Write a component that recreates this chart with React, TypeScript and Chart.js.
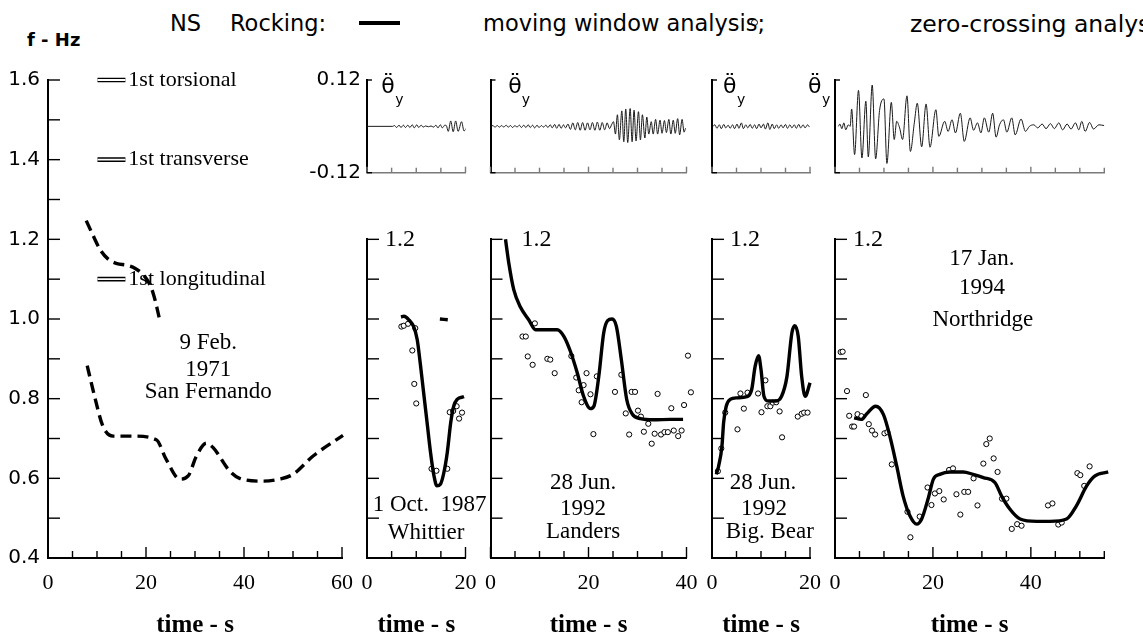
import React, { useEffect, useRef } from "react";
import { Chart, registerables } from "chart.js";

Chart.register(...registerables);

// ======================= DATA =======================
// San Fernando 1971 (moving window, dashed)
const SF_UPPER: [number, number][] = [
  [7.8, 1.247], [9.0, 1.215], [10.7, 1.173], [12.4, 1.149], [14.1, 1.139], [16.1, 1.135],
  [17.8, 1.127], [19.2, 1.114], [20.5, 1.093], [21.5, 1.063], [22.2, 1.03], [22.8, 0.997],
];
const SF_LOWER: [number, number][] = [
  [8.0, 0.883], [9.5, 0.806], [11.2, 0.731], [13.3, 0.706], [17.3, 0.706], [22.1, 0.697],
  [24.1, 0.648], [26.9, 0.598], [28.6, 0.606], [30.3, 0.656], [32.3, 0.688], [33.7, 0.677],
  [37.1, 0.618], [39.1, 0.6], [43.9, 0.593], [47.3, 0.598], [50.0, 0.61], [54.1, 0.656], [60.2, 0.708],
];
const MODE_FREQS = [1.6, 1.4, 1.1];
const MODE_NAMES = ["1st torsional", "1st transverse", "1st longitudinal"];
const MODE_BAR_T = [10.1, 15.8];
const MODE_LABEL_T = 16.4;

// Whittier 1987
const WH_MOVING: [number, number][] = [
  [6.9, 1.005], [7.5, 1.007], [8.5, 0.998], [9.5, 0.98], [10.2, 0.948], [10.8, 0.89], [11.5, 0.815],
  [12.2, 0.74], [12.9, 0.665], [13.6, 0.606], [14.2, 0.581], [14.9, 0.585], [15.6, 0.614], [16.3, 0.665],
  [17.0, 0.74], [17.6, 0.781], [18.3, 0.798], [19.7, 0.805],
];
const WH_MOVING_TAIL: [number, number][] = [[14.8, 1.0], [16.4, 0.998]];
const WH_ZERO: [number, number][] = [
  [6.98, 0.981], [7.46, 0.983], [8.34, 0.988], [9.8, 0.977], [9.2, 0.921], [9.6, 0.837], [10.0, 0.788],
  [13.1, 0.624], [14.1, 0.619], [16.3, 0.624], [16.8, 0.766], [17.5, 0.769], [18.2, 0.781], [18.7, 0.75], [19.3, 0.765],
];

// Landers 1992
const LA_MOVING: [number, number][] = [
  [3.06, 1.2], [3.74, 1.14], [4.76, 1.073], [6.1, 1.03], [7.8, 0.998], [9.2, 0.973], [10.9, 0.973],
  [13.6, 0.973], [15.0, 0.956], [16.3, 0.919], [17.7, 0.865], [19.0, 0.806], [20.4, 0.775], [21.1, 0.781],
  [22.1, 0.856], [23.1, 0.965], [23.9, 0.996], [24.8, 1.0], [25.7, 0.981], [26.7, 0.898], [27.8, 0.798],
  [28.9, 0.762], [30.6, 0.75], [33.3, 0.747], [36.7, 0.748], [39.3, 0.748],
];
const LA_ZERO: [number, number][] = [
  [6.53, 0.956], [7.2, 0.956], [9.05, 0.989], [7.6, 0.906], [8.6, 0.885], [11.6, 0.9], [12.2, 0.898],
  [13.1, 0.864], [16.5, 0.907], [17.5, 0.853], [18.0, 0.821], [18.6, 0.791], [19.0, 0.834], [19.6, 0.864],
  [20.4, 0.811], [21.0, 0.711], [21.7, 0.856], [25.4, 0.817], [26.7, 0.86], [27.6, 0.763], [28.3, 0.71],
  [28.8, 0.817], [29.5, 0.817], [30.1, 0.77], [30.7, 0.755], [31.3, 0.717], [32.2, 0.737], [32.9, 0.687],
  [33.5, 0.712], [34.1, 0.812], [34.8, 0.71], [35.5, 0.716], [36.2, 0.716], [36.9, 0.776], [37.4, 0.72],
  [38.3, 0.706], [39.0, 0.72], [39.5, 0.784], [40.3, 0.908], [40.9, 0.816], [41.4, 0.76], [42.0, 0.764], [42.7, 0.731],
];

// Big Bear 1992
const BB_MOVING: [number, number][] = [
  [0.88, 0.61], [1.36, 0.631], [2.03, 0.681], [2.37, 0.74], [2.9, 0.781], [3.7, 0.798], [5.1, 0.802],
  [7.1, 0.805], [8.1, 0.823], [8.8, 0.881], [9.5, 0.908], [10.0, 0.873], [10.6, 0.806], [11.5, 0.794],
  [12.9, 0.794], [14.2, 0.806], [15.3, 0.856], [16.3, 0.965], [16.9, 0.983], [17.6, 0.956], [18.3, 0.856],
  [19.0, 0.806], [20.0, 0.84], [21.5, 0.905],
];
const BB_ZERO: [number, number][] = [
  [1.2, 0.618], [1.9, 0.675], [2.7, 0.765], [5.2, 0.723], [5.8, 0.813], [6.5, 0.775], [7.25, 0.815],
  [9.4, 0.813], [10.1, 0.766], [10.9, 0.846], [11.3, 0.781], [11.9, 0.781], [12.4, 0.79], [13.1, 0.791],
  [13.8, 0.768], [14.3, 0.703], [17.5, 0.755], [18.3, 0.762], [18.8, 0.765], [19.5, 0.765],
];

// Northridge 1994
const NR_MOVING: [number, number][] = [
  [3.9, 0.752], [5.4, 0.748], [6.5, 0.762], [8.3, 0.781], [9.9, 0.76], [11.2, 0.706], [12.6, 0.631],
  [13.9, 0.556], [15.3, 0.506], [16.7, 0.485], [17.7, 0.498], [19.0, 0.548], [20.1, 0.598], [21.4, 0.61],
  [23.5, 0.616], [26.2, 0.616], [28.2, 0.61], [30.3, 0.602], [32.7, 0.589], [34.0, 0.556], [35.7, 0.523],
  [37.8, 0.498], [41.2, 0.492], [43.9, 0.492], [47.3, 0.498], [49.3, 0.531], [51.4, 0.581], [53.1, 0.606], [55.8, 0.616],
];
const NR_ZERO: [number, number][] = [
  [1.16, 0.917], [1.56, 0.918], [2.45, 0.819], [2.9, 0.757], [3.5, 0.73], [3.9, 0.73], [4.6, 0.761],
  [5.4, 0.756], [6.3, 0.809], [6.9, 0.736], [7.55, 0.72], [8.2, 0.71], [10.1, 0.713], [10.7, 0.716],
  [11.6, 0.635], [14.8, 0.516], [15.4, 0.452], [17.3, 0.504], [18.9, 0.577], [19.7, 0.533], [20.4, 0.562],
  [21.3, 0.568], [22.2, 0.547], [23.3, 0.621], [24.1, 0.625], [24.8, 0.56], [25.6, 0.509], [26.4, 0.566],
  [27.2, 0.566], [28.3, 0.6], [29.1, 0.532], [30.3, 0.637], [30.9, 0.686], [31.6, 0.7], [32.4, 0.65],
  [33.2, 0.616], [34.1, 0.549], [35.0, 0.549], [36.1, 0.473], [37.2, 0.485], [38.1, 0.481], [43.5, 0.532],
  [44.4, 0.537], [45.6, 0.484], [46.3, 0.489], [49.5, 0.613], [50.1, 0.608], [50.9, 0.581], [52.0, 0.63],
  [56.1, 0.713], [57.0, 0.713], [58.3, 0.637], [58.7, 0.598],
];

// Rocking accelerations (rad/s^2)
const WH_ACC: [number, number][] = [
  [0, 0], [5.2, 0], [5.6, 0.002], [6.0, -0.003], [6.5, 0.003], [6.9, -0.003], [7.4, 0.003], [7.8, -0.003],
  [8.3, 0.003], [8.7, -0.003], [9.2, 0.004], [9.6, -0.004], [10.1, 0.004], [10.5, -0.003], [11.0, 0.003],
  [11.4, -0.002], [11.9, 0.001], [12.5, -0.001], [13.0, 0.001], [13.5, -0.002], [14.0, 0.003], [14.4, -0.004],
  [14.9, 0.004], [15.3, -0.004], [15.8, 0.003], [16.1, 0.002], [16.5, -0.013], [17.0, 0.014], [17.5, -0.014],
  [18.0, 0.014], [18.5, -0.013], [19.2, 0.012], [19.7, -0.012], [20.2, -0.004],
];
const LA_ACC: [number, number][] = [
  [0, 0], [0.5, 0.002], [0.9, -0.002], [1.4, 0.002], [1.8, -0.002], [2.3, 0.002], [2.7, -0.002], [3.2, 0.003],
  [3.6, -0.002], [4.1, 0.002], [4.5, -0.003], [5.0, 0.002], [5.4, -0.002], [5.9, 0.003], [6.3, -0.003],
  [6.8, 0.003], [7.2, -0.003], [7.7, 0.004], [8.1, -0.003], [8.6, 0.003], [9.0, -0.004], [9.5, 0.003],
  [9.9, -0.003], [10.4, 0.002], [10.8, -0.002], [11.3, 0.003], [11.7, -0.003], [12.2, 0.004], [12.6, -0.004],
  [13.1, 0.005], [13.5, -0.005], [14.0, 0.005], [14.4, -0.005], [14.9, 0.004], [15.3, -0.004],
  [15.8, 0.006], [16.3, -0.008], [16.8, 0.009], [17.3, -0.009], [17.8, 0.01], [18.3, -0.01], [18.8, 0.01],
  [19.3, -0.01], [19.8, 0.009], [20.3, -0.009], [20.8, 0.01], [21.3, -0.01], [21.8, 0.011], [22.3, -0.01],
  [22.8, 0.01], [23.3, -0.009], [23.8, 0.009], [24.3, -0.006], [24.7, 0.004],
  [25.1, 0.012], [25.5, -0.02], [25.9, 0.03], [26.3, -0.035], [26.8, 0.04], [27.2, -0.04], [27.6, 0.045],
  [28.0, -0.042], [28.5, 0.046], [28.9, -0.04], [29.3, 0.042], [29.7, -0.038], [30.2, 0.038], [30.6, -0.035],
  [31.0, 0.03], [31.5, -0.03], [31.9, 0.024], [32.3, -0.02],
  [32.8, 0.012], [33.2, -0.02], [33.7, 0.018], [34.1, -0.02], [34.6, 0.016], [35.0, -0.018], [35.5, 0.015],
  [35.9, -0.016], [36.4, 0.018], [36.8, -0.02], [37.3, 0.016], [37.7, -0.018], [38.2, 0.02], [38.6, -0.022],
  [39.1, 0.018], [39.5, -0.015], [39.8, -0.005],
];
const BB_ACC: [number, number][] = [
  [0.2, 0], [0.6, 0.004], [1.0, -0.005], [1.5, 0.004], [1.9, -0.006], [2.4, 0.005], [2.8, -0.004], [3.3, 0.003],
  [3.7, -0.005], [4.2, 0.004], [4.6, -0.006], [5.1, 0.006], [5.5, -0.005], [6.0, 0.009], [6.4, -0.006],
  [6.9, 0.004], [7.3, -0.004], [7.8, 0.005], [8.2, -0.005], [8.7, 0.004], [9.1, -0.006], [9.6, 0.006],
  [10.0, -0.004], [10.5, 0.006], [10.9, -0.007], [11.4, 0.009], [11.8, -0.008], [12.3, 0.006], [12.7, -0.006],
  [13.2, 0.004], [13.6, -0.005], [14.1, 0.004], [14.5, -0.004], [15.0, 0.005], [15.4, -0.005], [15.9, 0.004],
  [16.3, -0.004], [16.8, 0.004], [17.2, -0.005], [17.7, 0.005], [18.1, -0.004], [18.6, 0.004], [19.0, -0.004],
  [19.5, 0.004], [19.9, -0.002],
];
const NR_ACC: [number, number][] = [
  [0.7, 0], [1.0, 0.006], [1.4, -0.006], [1.8, 0.009], [2.2, -0.009], [2.7, 0.004], [3.1, 0], [3.4, 0.045],
  [4.0, -0.073], [4.8, 0.093], [5.5, -0.082], [6.3, 0.065], [6.8, -0.079], [7.6, 0.107], [8.3, -0.084],
  [9.1, 0.041], [10.0, 0.071], [10.6, -0.096], [11.5, 0.062], [12.1, -0.034], [12.6, 0.013], [13.2, -0.004],
  [13.8, -0.034], [14.7, 0.079], [15.4, -0.065], [16.2, 0.009], [16.8, 0.06], [17.7, -0.053], [18.6, 0.058],
  [19.4, -0.054], [20.6, 0.043], [21.2, -0.026], [22.4, 0.013], [23.1, -0.013], [23.9, 0.017], [24.6, -0.017],
  [25.6, 0.034], [26.4, -0.039], [27.6, 0.022], [28.3, -0.01], [29.1, 0.009], [29.8, -0.017], [30.5, 0.022],
  [31.4, -0.015], [32.2, 0.034], [32.9, -0.028], [33.6, 0.004], [34.4, 0.017], [35.1, -0.015], [36.1, 0.022],
  [36.8, -0.022], [38.0, 0.019], [38.9, -0.013], [39.7, 0], [40.6, 0.004], [41.4, -0.004], [42.3, 0.006],
  [43.1, -0.006], [44.0, 0.007], [44.8, -0.006], [45.7, 0.009], [46.5, -0.009], [47.4, 0.006], [48.2, -0.007],
  [49.1, 0.009], [49.8, -0.009], [50.4, 0.013], [51.1, -0.013], [52.0, 0.01], [52.8, -0.007], [53.9, 0.004], [55.0, 0.002],
];

// Axis / ticks
const T_STEP = 5;
const T_LABEL_EVERY = 20;
const F_MIN = 0.4;
const F_STEP = 0.1;
const ACC_TICKS = [-0.12, 0.12];

// Event captions [text, time, freq]
const SF_CAPTION: [string, number, number][] = [["9 Feb.", 32.7, 0.94], ["1971", 32.7, 0.872], ["San Fernando", 32.7, 0.817]];
const WH_CAPTION: [string, number, number][] = [["1 Oct.  1987", 12.7, 0.532], ["Whittier", 12.0, 0.463]];
const LA_CAPTION: [string, number, number][] = [["28 Jun.", 18.9, 0.588], ["1992", 18.9, 0.522], ["Landers", 18.9, 0.465]];
const BB_CAPTION: [string, number, number][] = [["28 Jun.", 10.4, 0.588], ["1992", 10.6, 0.522], ["Big. Bear", 11.8, 0.465]];
const NR_CAPTION: [string, number, number][] = [["17 Jan.", 30.0, 1.151], ["1994", 30.0, 1.078], ["Northridge", 30.2, 0.998]];

// ======================= LAYOUT / STYLE =======================
const PAGE_W = 1143;
const PAGE_H = 641;
const AXIS_Y = 558;
const F_TOP_PX = 80;
const F_TOP_VAL = 1.6;
const PX_PER_HZ = (AXIS_Y - F_TOP_PX) / (F_TOP_VAL - F_MIN);
const topFor = (fmax: number) => AXIS_Y - (fmax - F_MIN) * PX_PER_HZ;
const Y_AXIS_W = 40;
const ACC_Y_AXIS_W = 80;
const X_AXIS_H = PAGE_H - AXIS_Y;
const ACC_TOP = 80;
const ACC_BOTTOM = 172.7;
const ACC_X_H = 6;

const SERIF = '"Liberation Serif", "Times New Roman", serif';
const SANS = '"DejaVu Sans", sans-serif';

Chart.defaults.font.family = SANS;

const steps = (a: number, b: number, s: number) => {
  const out: number[] = [];
  for (let v = a; v <= b + 1e-9; v += s) out.push(Math.round(v * 1000) / 1000);
  return out;
};
const toXY = (arr: [number, number][]) => arr.map(([x, y]) => ({ x, y }));
const isMajorT = (v: number) => Math.abs(v / T_LABEL_EVERY - Math.round(v / T_LABEL_EVERY)) < 1e-6;

type TextItem = { x: number; y: number; text: string; font: string; align?: CanvasTextAlign };

function textPlugin(items: TextItem[], before: boolean) {
  const draw = (chart: any) => {
    const { ctx } = chart;
    const xs = chart.scales.x;
    const ys = chart.scales.y;
    ctx.save();
    ctx.fillStyle = "#000";
    ctx.textBaseline = "middle";
    for (const it of items) {
      ctx.font = it.font;
      ctx.textAlign = it.align || "center";
      ctx.fillText(it.text, xs.getPixelForValue(it.x), ys.getPixelForValue(it.y));
    }
    ctx.restore();
  };
  return before ? { id: "textMarks", beforeDatasetsDraw: draw } : { id: "textMarks", afterDatasetsDraw: draw };
}

function tickPlugin(cfg: { xMajor: number; xMinor: number; yLen: number; xColor: string }) {
  return {
    id: "innerTicks",
    afterDraw(chart: any) {
      const { ctx, chartArea } = chart;
      const xs = chart.scales.x;
      const ys = chart.scales.y;
      ctx.save();
      ctx.lineWidth = 1.4;
      ctx.strokeStyle = cfg.xColor;
      for (const t of xs.ticks) {
        const px = xs.getPixelForValue(t.value);
        const len = isMajorT(t.value) ? cfg.xMajor : cfg.xMinor;
        ctx.beginPath();
        ctx.moveTo(px, chartArea.bottom);
        ctx.lineTo(px, chartArea.bottom - len);
        ctx.stroke();
      }
      ctx.strokeStyle = "#000";
      for (const t of ys.ticks) {
        const py = ys.getPixelForValue(t.value);
        ctx.beginPath();
        ctx.moveTo(chartArea.left, py);
        ctx.lineTo(chartArea.left + cfg.yLen, py);
        ctx.stroke();
      }
      ctx.restore();
    },
  };
}

type FreqPanel = {
  id: string; left: number; right: number; tMax: number; fMax: number; labelPad: number;
  datasets: any[]; texts: TextItem[]; textsBefore: boolean;
};
type AccPanel = { id: string; left: number; right: number; tMax: number; labels: boolean; data: [number, number][]; theta: [number, number] };

const lineDs = (data: [number, number][]) => ({
  data: toXY(data), borderColor: "#000", borderWidth: 3.4, pointRadius: 0, cubicInterpolationMode: "monotone", clip: false,
});
const dotDs = (data: [number, number][]) => ({
  data: toXY(data), showLine: false, pointRadius: 2.6, pointBorderWidth: 1, pointBorderColor: "#000",
  pointBackgroundColor: "#fff", clip: false,
});
const captionItems = (c: [string, number, number][]): TextItem[] =>
  c.map(([text, x, y]) => ({ text, x, y, font: `23px ${SERIF}` }));

const modeBar = MODE_FREQS.flatMap((f) => [
  { x: MODE_BAR_T[0], y: f }, { x: MODE_BAR_T[1], y: f }, { x: MODE_BAR_T[1], y: null as any },
]);

const FREQ_PANELS: FreqPanel[] = [
  {
    id: "sf", left: 48, right: 342, tMax: 60, fMax: 1.6, labelPad: 8, textsBefore: true,
    datasets: [
      { ...lineDs(SF_UPPER), borderDash: [11, 6] },
      { ...lineDs(SF_LOWER), borderDash: [11, 6] },
      { data: modeBar, borderColor: "#fff", borderWidth: 1.8, pointRadius: 0, spanGaps: false, clip: false },
      { data: modeBar, borderColor: "#000", borderWidth: 4.6, pointRadius: 0, spanGaps: false, clip: false },
    ],
    texts: [
      ...MODE_NAMES.map((n, i) => ({ text: n, x: MODE_LABEL_T, y: MODE_FREQS[i], font: `22px ${SERIF}`, align: "left" as CanvasTextAlign })),
      ...captionItems(SF_CAPTION),
    ],
  },
  {
    id: "wh", left: 367, right: 465.5, tMax: 20, fMax: 1.2, labelPad: 18, textsBefore: false,
    datasets: [lineDs(WH_MOVING), lineDs(WH_MOVING_TAIL), dotDs(WH_ZERO)],
    texts: captionItems(WH_CAPTION),
  },
  {
    id: "la", left: 490.5, right: 686.5, tMax: 40, fMax: 1.2, labelPad: 31, textsBefore: false,
    datasets: [lineDs(LA_MOVING), dotDs(LA_ZERO)],
    texts: captionItems(LA_CAPTION),
  },
  {
    id: "bb", left: 712, right: 810, tMax: 20, fMax: 1.2, labelPad: 18, textsBefore: false,
    datasets: [lineDs(BB_MOVING), dotDs(BB_ZERO)],
    texts: captionItems(BB_CAPTION),
  },
  {
    id: "nr", left: 835, right: 1104.3, tMax: 55, fMax: 1.2, labelPad: 18, textsBefore: false,
    datasets: [lineDs(NR_MOVING), dotDs(NR_ZERO)],
    texts: captionItems(NR_CAPTION),
  },
];

const ACC_PANELS: AccPanel[] = [
  { id: "wha", left: 367, right: 465.5, tMax: 20, labels: true, data: WH_ACC, theta: [2.9, 5.75] },
  { id: "laa", left: 490.5, right: 686.5, tMax: 40, labels: false, data: LA_ACC, theta: [3.6, 6.4] },
  { id: "bba", left: 712, right: 810, tMax: 20, labels: false, data: BB_ACC, theta: [2.25, 5.1] },
  { id: "nra", left: 835, right: 1104.3, tMax: 55, labels: false, data: NR_ACC, theta: [-5.5, -2.65] },
];

function freqConfig(p: FreqPanel): any {
  const first = p.id === "sf";
  const fTicks = steps(F_MIN, p.fMax, F_STEP);
  const tTicks = steps(0, p.tMax, T_STEP);
  return {
    type: "line",
    data: { datasets: p.datasets },
    options: {
      animation: false, responsive: false, events: [],
      layout: { padding: { left: p.left - Y_AXIS_W, right: PAGE_W - p.right, top: topFor(p.fMax), bottom: PAGE_H - AXIS_Y - X_AXIS_H } },
      plugins: { legend: { display: false }, tooltip: { enabled: false } },
      scales: {
        x: {
          type: "linear", min: 0, max: p.tMax,
          afterBuildTicks: (s: any) => { s.ticks = tTicks.map((value) => ({ value })); },
          afterFit: (s: any) => { s.height = X_AXIS_H; },
          border: { display: true, color: "#000", width: 2 },
          grid: { display: true, drawOnChartArea: false, drawTicks: false },
          ticks: {
            autoSkip: false, maxRotation: 0, minRotation: 0, padding: 12, color: "#000",
            font: { family: SERIF, size: 22 },
            callback: (v: number) => (isMajorT(v) ? String(Math.round(v)) : ""),
          },
          title: { display: true, text: "time - s", color: "#000", font: { family: SERIF, size: 25, weight: "bold" }, padding: { top: 0, bottom: 0 } },
        },
        y: {
          type: "linear", min: F_MIN, max: p.fMax,
          afterBuildTicks: (s: any) => { s.ticks = fTicks.map((value) => ({ value })); },
          afterFit: (s: any) => { s.width = Y_AXIS_W; },
          border: { display: true, color: "#000", width: 2 },
          grid: { display: true, drawOnChartArea: false, drawTicks: false },
          ticks: first
            ? {
                autoSkip: false, padding: 8, color: "#000", font: { family: SANS, size: 20 },
                callback: (v: number) => (Math.round(v * 10) % 2 === 0 ? v.toFixed(1) : ""),
              }
            : {
                autoSkip: false, mirror: true, padding: p.labelPad, color: "#000", font: { family: SERIF, size: 24 },
                callback: (v: number) => (Math.abs(v - p.fMax) < 1e-6 ? v.toFixed(1) : ""),
              },
        },
      },
    },
    plugins: [tickPlugin({ xMajor: 11, xMinor: 7, yLen: 12, xColor: "#000" }), textPlugin(p.texts, p.textsBefore)],
  };
}

function accConfig(p: AccPanel): any {
  const tTicks = steps(0, p.tMax, T_STEP);
  return {
    type: "line",
    data: {
      datasets: [{ data: toXY(p.data), borderColor: "#1a1a1a", borderWidth: 1, pointRadius: 0, cubicInterpolationMode: "monotone" }],
    },
    options: {
      animation: false, responsive: false, events: [],
      layout: { padding: { left: p.left - ACC_Y_AXIS_W, right: PAGE_W - p.right, top: ACC_TOP, bottom: PAGE_H - ACC_BOTTOM - ACC_X_H } },
      plugins: { legend: { display: false }, tooltip: { enabled: false } },
      scales: {
        x: {
          type: "linear", min: 0, max: p.tMax,
          afterBuildTicks: (s: any) => { s.ticks = tTicks.map((value) => ({ value })); },
          afterFit: (s: any) => { s.height = ACC_X_H; },
          border: { display: true, color: "#7a7a7a", width: 1.6 },
          grid: { display: true, drawOnChartArea: false, drawTicks: false },
          ticks: { display: false, autoSkip: false },
        },
        y: {
          type: "linear", min: ACC_TICKS[0], max: ACC_TICKS[1],
          afterBuildTicks: (s: any) => { s.ticks = ACC_TICKS.map((value) => ({ value })); },
          afterFit: (s: any) => { s.width = ACC_Y_AXIS_W; },
          border: { display: true, color: "#000", width: 2 },
          grid: { display: true, drawOnChartArea: false, drawTicks: false },
          ticks: {
            display: p.labels, autoSkip: false, padding: 6, color: "#000", font: { family: SANS, size: 20 },
            callback: (v: number) => v.toFixed(2),
          },
        },
      },
    },
    plugins: [
      tickPlugin({ xMajor: 6, xMinor: 5, yLen: 5, xColor: "#7a7a7a" }),
      textPlugin(
        [
          { text: "\u03B8\u0308", x: p.theta[0], y: 0.1, font: `22px ${SANS}`, align: "left" },
          { text: "y", x: p.theta[1], y: 0.068, font: `14px ${SANS}`, align: "left" },
        ],
        false
      ),
    ],
  };
}

const abs = (left: number, top: number, extra: React.CSSProperties = {}): React.CSSProperties => ({
  position: "absolute", left, top, whiteSpace: "nowrap", lineHeight: 1, color: "#000", ...extra,
});

export default function App() {
  const refs = useRef<(HTMLCanvasElement | null)[]>([]);
  const all = [...FREQ_PANELS.map((p) => p.id), ...ACC_PANELS.map((p) => p.id)];

  useEffect(() => {
    document.body.style.margin = "0";
    const charts: Chart[] = [];
    FREQ_PANELS.forEach((p, i) => {
      const c = refs.current[i];
      if (c) charts.push(new Chart(c, freqConfig(p)));
    });
    ACC_PANELS.forEach((p, i) => {
      const c = refs.current[FREQ_PANELS.length + i];
      if (c) charts.push(new Chart(c, accConfig(p)));
    });
    return () => charts.forEach((ch) => ch.destroy());
  }, []);

  return (
    <div style={{ position: "relative", width: PAGE_W, height: PAGE_H, overflow: "hidden", background: "#fff" }}>
      <div style={abs(27, 29, { font: `bold 18px ${SANS}` })}>f - Hz</div>
      <div style={abs(170, 10, { font: `22.5px ${SANS}` })}>NS</div>
      <div style={abs(230, 10, { font: `22.5px ${SANS}` })}>Rocking:</div>
      <div style={abs(359, 21, { width: 41, height: 4, background: "#000" })} />
      <div style={abs(483, 10, { font: `22.5px ${SANS}` })}>moving window analysis;</div>
      <div style={abs(751, 19, { width: 5, height: 5, border: "1px solid #000", borderRadius: "50%" })} />
      <div style={abs(910, 10, { font: `23.5px ${SANS}` })}>zero-crossing analysis;</div>
      {all.map((id, i) => (
        <canvas
          key={id}
          ref={(el) => { refs.current[i] = el; }}
          width={PAGE_W}
          height={PAGE_H}
          style={{ position: "absolute", left: 0, top: 0, width: PAGE_W, height: PAGE_H }}
        />
      ))}
    </div>
  );
}
